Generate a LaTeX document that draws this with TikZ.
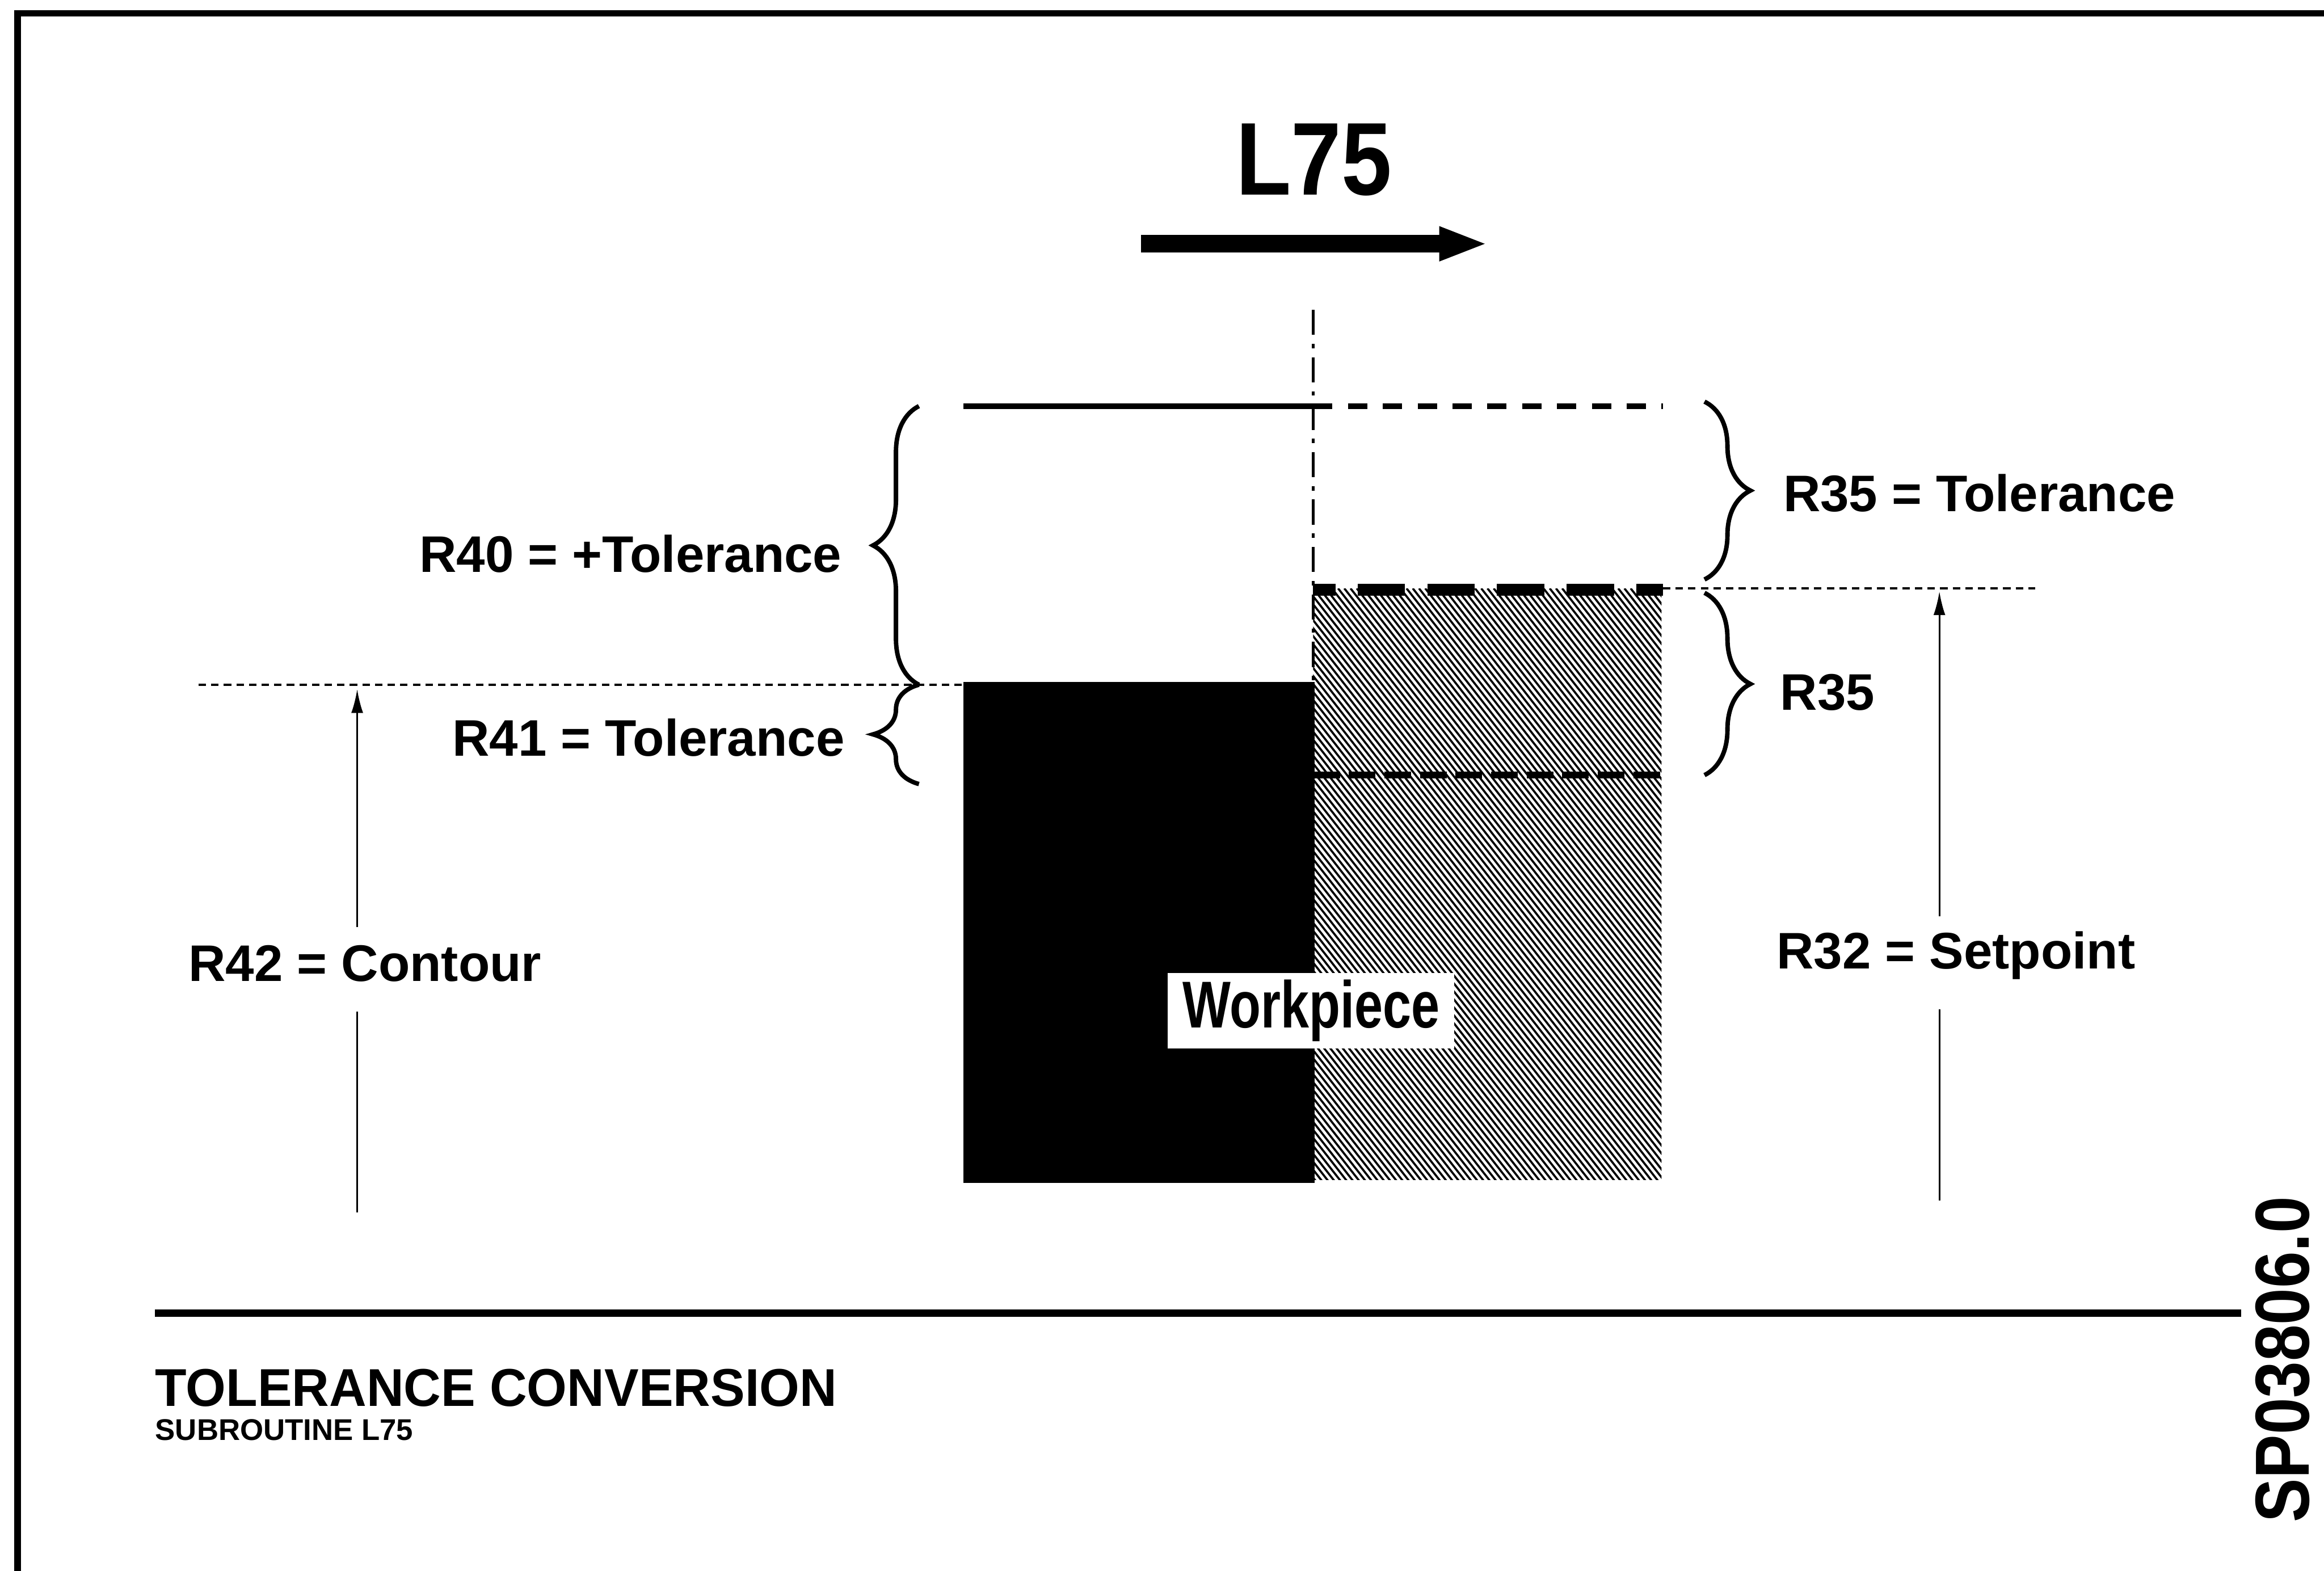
\documentclass[tikz,border=0pt]{standalone}
\usepackage{fontspec}
\setmainfont{Liberation Sans}
\newfontfamily\condfont[FakeStretch=0.77]{Liberation Sans}
\newfontfamily\headfont[FakeStretch=0.875]{Liberation Sans}
\newfontfamily\capfont[FakeStretch=0.97]{Liberation Sans}
\newfontfamily\codefont[FakeStretch=0.86]{Liberation Sans}
\usetikzlibrary{positioning,arrows.meta,decorations.pathreplacing}

\begin{document}
\begin{tikzpicture}[x=1pt,y=-1pt,
lbl/.style={inner sep=0pt,font=\fontsize{34.7}{40}\selectfont\bfseries},
guide/.style={line width=1.3pt,dash pattern=on 5pt off 3.5pt},
bracel/.style={decorate,decoration={brace,amplitude=31pt},line width=3pt},
dimline/.style={line width=1.2pt},
dimarr/.style={dimline,-{Latex[length=16pt,width=8pt]}},
hatchline/.style={line width=1.4pt}]
\useasboundingbox (0,0) rectangle (1568,1060);
% frame and rule
\draw[line width=4.5pt] (1568,9) -- (12,9) -- (12,1060);
\draw[line width=5pt] (104.6,886) -- (1512,886);
% title and travel direction
\node[anchor=base,inner sep=0pt,font=\headfont\fontsize{69.8}{75}\selectfont\bfseries] (l75) at (886.4,131.5) {L75};
\coordinate (mvs) at (770,164.5);
\coordinate (mve) at (1004,164.5);
\draw[line width=12pt,-{Triangle[length=33pt,width=21pt]}] (mvs) -- (mve);
% workpiece and setpoint area
\fill (650,460) rectangle (887,798);
\begin{scope}
\clip (886,397) rectangle (1121,796);
\foreach \i in {0,...,135}
  \draw[hatchline] ({571+4.2*\i},397) -- ++(315,403);
\end{scope}
% tolerance lines
\coordinate (topl) at (650,274);
\coordinate (topm) at (886,274);
\coordinate (topr) at (1122,274);
\draw[line width=4pt] (topl) -- (topm);
\draw[line width=4pt,dash pattern=on 13pt off 10.5pt] (topm) -- (topr);
\coordinate (setl) at (886,398);
\coordinate (setr) at (1122,398);
\draw[line width=8pt,dash pattern=on 32pt off 15pt,dash phase=17pt] (setl) -- (setr);
\coordinate (lowl) at (886,523);
\coordinate (lowr) at (1122,523);
\draw[line width=4.5pt,dash pattern=on 18pt off 6pt] (lowl) -- (lowr);
\coordinate (ctrt) at (886,209);
\coordinate (ctrb) at (886,460);
\draw[line width=1.8pt,dash pattern=on 17pt off 6pt on 3pt off 6pt] (ctrt) -- (ctrb);
\coordinate (gl1) at (134,462);
\coordinate (gl2) at (650,462);
\draw[guide] (gl1) -- (gl2);
\coordinate (gr1) at (1122,397);
\coordinate (gr2) at (1373,397);
\draw[guide] (gr1) -- (gr2);
% braces
\draw[bracel] (620,462) -- (620,274);
\draw[bracel] (620,529) -- (620,462);
\draw[bracel] (1150,271) -- (1150,391);
\draw[bracel] (1150,400) -- (1150,523);
% labels
\node[lbl,anchor=base east] (r40) at (568,386) {R40 = +Tolerance};
\node[lbl,anchor=base east] (r41) at (570,510) {R41 = Tolerance};
\node[lbl,anchor=base west] (r35t) at (1203,345) {R35 = Tolerance};
\node[lbl,anchor=base west] (r35) at (1201,479) {R35};
\node[lbl,anchor=base west] (r42) at (127,662) {R42 = Contour};
\node[lbl,anchor=base west] (r32) at (1198.5,653.6) {R32 = Setpoint};
\node[fill=white,inner sep=0pt,minimum width=193pt,minimum height=51pt,
  font=\condfont\fontsize{44.7}{50}\selectfont\bfseries] (work) at (884.5,682) {Workpiece};
% dimension arrows
\coordinate (c42t) at (241,465);
\coordinate (c42b) at (241,818);
\draw[dimline] (c42b) -- ([yshift=-20pt]r42.south -| c42b);
\draw[dimarr] ([yshift=12pt]r42.north -| c42b) -- (c42t);
\coordinate (c32t) at (1308.5,399);
\coordinate (c32b) at (1308.5,810);
\draw[dimline] (c32b) -- ([yshift=-20pt]r32.south -| c32b);
\draw[dimarr] ([yshift=10pt]r32.north -| c32b) -- (c32t);
% caption
\node[anchor=base west,inner sep=0pt,font=\capfont\fontsize{35.9}{40}\selectfont\bfseries] (cap) at (104.6,948.8) {TOLERANCE CONVERSION};
\node[anchor=base west,inner sep=0pt,font=\fontsize{20.2}{24}\selectfont\bfseries] (sub) at (104.6,971.6) {SUBROUTINE L75};
\node[rotate=90,anchor=base west,inner sep=0pt,font=\codefont\fontsize{51.7}{56}\selectfont\bfseries] (code) at (1558,1027.6) {SP03806.0};
\end{tikzpicture}
\end{document}
